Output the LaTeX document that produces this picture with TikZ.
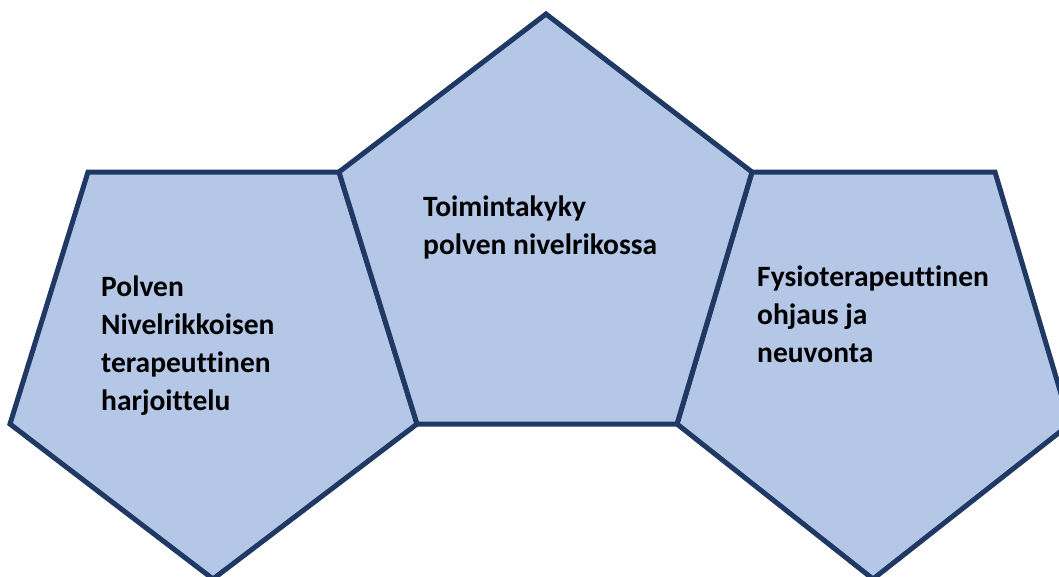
\documentclass[tikz,border=0pt]{standalone}
\usepackage{fontspec}
\setmainfont[Ligatures=NoCommon]{Carlito}
\usepackage{xcolor}
\usetikzlibrary{positioning}
\definecolor{penfill}{RGB}{180,199,231}
\definecolor{penline}{RGB}{31,56,100}

\begin{document}
\begin{tikzpicture}[
  x=1pt,y=-1pt,
  pent/.style={draw=penline,fill=penfill,line width=5pt,line join=miter},
  txt/.style={anchor=north west,inner sep=0pt,align=left,text=black,
    font=\fontsize{29.5}{38}\selectfont\bfseries}
]
\useasboundingbox (0,0) rectangle (1059,576);
% side pentagons
\draw[pent] (88,172) -- (339,172) -- (417,424) -- (213,579) -- (10,424) -- cycle;
\draw[pent] (752,172) -- (995,172) -- (1070,424) -- (873,579) -- (677,424) -- cycle;
% middle pentagon
\draw[pent] (546,14) -- (752,172) -- (677,424) -- (417,424) -- (339,172) -- cycle;
\node[txt] (left) at (101,276) {Polven\\Nivelrikkoisen\\terapeuttinen\\harjoittelu};
\node[txt] (mid) at (423,196) {Toimintakyky\\polven nivelrikossa};
\node[txt] (right) at (757,266) {Fysioterapeuttinen\\ohjaus ja\\neuvonta};
\end{tikzpicture}
\end{document}
